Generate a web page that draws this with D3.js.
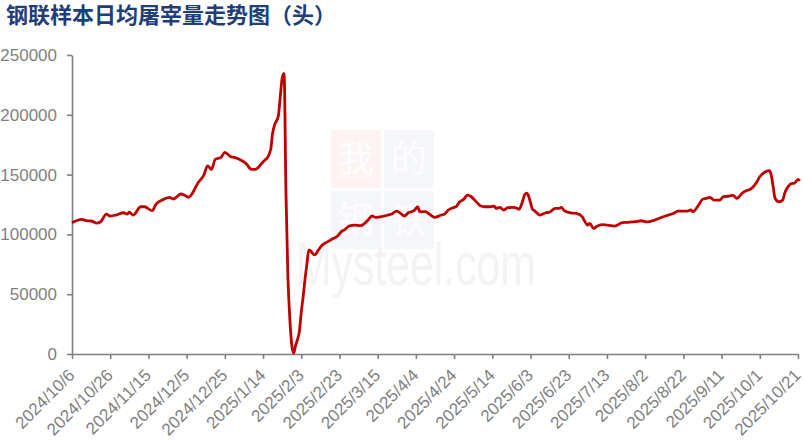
<!DOCTYPE html>
<html>
<head>
<meta charset="utf-8">
<script src="https://cdn.jsdelivr.net/npm/d3@7"></script>
<style>
  body { margin: 0; background: #fff; }
  .axis text { font-family: "Liberation Sans", Arial, sans-serif; font-size: 17px; fill: #7f7f7f; }
  .axis path, .axis line { stroke: #808080; stroke-width: 1.6; }
</style>
</head>
<body>
<div id="chart"></div>
<script>

/* 钢联样本日均屠宰量 (头) */

var dates = [
  "2024/10/6", "2024/10/11", "2024/10/14", "2024/10/16", "2024/10/19", "2024/10/21", "2024/10/24",
  "2024/10/26", "2024/10/29", "2024/11/2", "2024/11/4", "2024/11/5", "2024/11/7", "2024/11/11",
  "2024/11/13", "2024/11/17", "2024/11/19", "2024/11/23", "2024/11/26", "2024/11/28", "2024/12/2",
  "2024/12/4", "2024/12/6", "2024/12/7", "2024/12/11", "2024/12/14", "2024/12/16", "2024/12/18",
  "2024/12/20", "2024/12/23", "2024/12/25", "2024/12/28", "2024/12/30", "2025/1/3", "2025/1/5",
  "2025/1/8", "2025/1/10", "2025/1/13", "2025/1/15", "2025/1/16", "2025/1/18", "2025/1/19",
  "2025/1/20", "2025/1/22", "2025/1/23", "2025/1/24", "2025/1/25", "2025/1/26", "2025/1/27",
  "2025/1/28", "2025/1/29", "2025/1/30", "2025/1/31", "2025/2/1", "2025/2/2", "2025/2/3",
  "2025/2/4", "2025/2/5", "2025/2/6", "2025/2/7", "2025/2/8", "2025/2/9", "2025/2/10",
  "2025/2/12", "2025/2/14", "2025/2/16", "2025/2/19", "2025/2/22", "2025/2/24", "2025/2/26",
  "2025/2/28", "2025/3/3", "2025/3/6", "2025/3/7", "2025/3/10", "2025/3/12", "2025/3/14",
  "2025/3/17", "2025/3/20", "2025/3/22", "2025/3/25", "2025/3/27", "2025/3/29", "2025/3/31",
  "2025/4/3", "2025/4/5", "2025/4/6", "2025/4/9", "2025/4/11", "2025/4/14", "2025/4/17",
  "2025/4/19", "2025/4/21", "2025/4/24", "2025/4/25", "2025/4/27", "2025/4/29", "2025/5/1",
  "2025/5/3", "2025/5/6", "2025/5/8", "2025/5/10", "2025/5/13", "2025/5/15", "2025/5/16",
  "2025/5/18", "2025/5/20", "2025/5/22", "2025/5/25", "2025/5/27", "2025/5/28", "2025/5/30",
  "2025/5/31", "2025/6/1", "2025/6/2", "2025/6/3", "2025/6/4", "2025/6/5", "2025/6/8", "2025/6/11",
  "2025/6/13", "2025/6/15", "2025/6/16", "2025/6/18", "2025/6/19", "2025/6/21", "2025/6/24",
  "2025/6/27", "2025/6/30", "2025/7/1", "2025/7/3", "2025/7/4", "2025/7/6", "2025/7/8",
  "2025/7/11", "2025/7/14", "2025/7/17", "2025/7/21", "2025/7/24", "2025/7/28", "2025/7/31",
  "2025/8/3", "2025/8/7", "2025/8/10", "2025/8/13", "2025/8/17", "2025/8/19", "2025/8/24",
  "2025/8/26", "2025/8/27", "2025/8/30", "2025/9/1", "2025/9/3", "2025/9/5", "2025/9/7",
  "2025/9/10", "2025/9/12", "2025/9/15", "2025/9/17", "2025/9/19", "2025/9/22", "2025/9/24",
  "2025/9/26", "2025/9/29", "2025/10/1", "2025/10/4", "2025/10/6", "2025/10/7", "2025/10/8",
  "2025/10/9", "2025/10/11", "2025/10/13", "2025/10/14", "2025/10/16", "2025/10/18", "2025/10/19",
  "2025/10/21", "2025/10/22"
];

var slaughter = [
  109800, 112600, 111400, 111200, 109500, 110600, 117000,
  115400, 116200, 118100, 117000, 118500, 116200, 123100,
  123100, 119800, 125400, 129300, 131000, 129600, 133800,
  132700, 131000, 132100, 143200, 149600, 157200, 154400,
  162800, 164400, 168600, 165000, 164400, 161600, 159400,
  154400, 154400, 158800, 162200, 163600, 171000, 184500,
  191400, 199000, 215100, 230500, 234700, 134300, 65000,
  30000, 8000, 500, 7000, 12000, 18600, 35000,
  48000, 63000, 76000, 87000, 86000, 84000, 82800,
  87000, 91100, 93100, 95900, 98600, 102300, 104200,
  107000, 107800, 107300, 107800, 112000, 115400, 114300,
  114800, 116000, 116800, 119500, 117600, 115400, 118100,
  119800, 123100, 119000, 119000, 117000, 114300, 116000,
  117000, 120400, 122600, 123100, 127300, 129300, 132900,
  131500, 126500, 123700, 123100, 123100, 123700, 121800,
  122600, 120400, 122300, 122600, 121800, 121000, 128500,
  133500, 134500, 132000, 126500, 121000, 119800, 116200, 118100,
  118600, 121000, 121800, 121800, 122600, 119500, 118100,
  117600, 114800, 112000, 107800, 109300, 105100, 107000,
  108100, 107600, 107000, 109800, 110100, 110600, 111400,
  110400, 112000, 113900, 115600, 117600, 119500, 119500,
  120400, 119000, 124600, 129300, 130200, 131000, 128700,
  128700, 131500, 132100, 132700, 130200, 134800, 136500,
  137700, 142700, 148200, 152400, 153300, 149600, 139900,
  130200, 127300, 128700, 134300, 140400, 142700, 142700,
  146000, 144900
];

var xTickLabels = [
  "2024/10/6", "2024/10/26", "2024/11/15", "2024/12/5", "2024/12/25", "2025/1/14", "2025/2/3",
  "2025/2/23", "2025/3/15", "2025/4/4", "2025/4/24", "2025/5/14", "2025/6/3", "2025/6/23",
  "2025/7/13", "2025/8/2", "2025/8/22", "2025/9/11", "2025/10/1", "2025/10/21"
];

var yTickValues = [0, 50000, 100000, 150000, 200000, 250000];

var chartTitle = "钢联样本日均屠宰量走势图（头）";

function drawChart(){

  var w = 804;
  var h = 445;
  var left = 72, right = 798, top = 55, bottom = 354;

  var parse = d3.timeParse("%Y/%m/%d");

  var data = dates.map(function(d, i){
    return {date: parse(d), value: slaughter[i]};
  });

  var x = d3.scaleTime()
            .domain([parse(xTickLabels[0]), parse(xTickLabels[xTickLabels.length - 1])])
            .range([left, right]);

  var y = d3.scaleLinear()
            .domain([0, d3.max(yTickValues)])
            .range([bottom, top]);

  var svg = d3.select("#chart").append("svg")
              .attr("width", w)
              .attr("height", h);

  svg.append("rect")
     .attr("width", w)
     .attr("height", h)
     .attr("fill", "#fff");

  // faint watermark
  var wm = svg.append("g");
  var cells = [
    {t: "我", x: 331, y: 130, bg: "#fdf3f3"},
    {t: "的", x: 384, y: 130, bg: "#f5f6fa"},
    {t: "钢", x: 331, y: 191, bg: "#f5f6fa"},
    {t: "铁", x: 384, y: 191, bg: "#f5f6fa"}
  ];
  wm.selectAll("rect.cell")
    .data(cells)
    .enter().append("rect")
    .attr("class", "cell")
    .attr("x", function(d){ return d.x; })
    .attr("y", function(d){ return d.y; })
    .attr("width", 50)
    .attr("height", 58)
    .attr("fill", function(d){ return d.bg; });
  wm.selectAll("text.cell")
    .data(cells)
    .enter().append("text")
    .attr("class", "cell")
    .attr("x", function(d){ return d.x + 25; })
    .attr("y", function(d){ return d.y + 42; })
    .attr("text-anchor", "middle")
    .style("font-family", "'Noto Sans CJK SC', sans-serif")
    .style("font-size", "36px")
    .style("fill", "#fdfdfe")
    .text(function(d){ return d.t; });
  wm.append("text")
    .attr("x", 296)
    .attr("y", 285)
    .attr("textLength", 240)
    .attr("lengthAdjust", "spacingAndGlyphs")
    .style("font-family", "'Liberation Sans', Arial, sans-serif")
    .style("font-size", "62px")
    .style("fill", "#f3f3f3")
    .text("Mysteel.com");

  // title
  svg.append("text")
     .attr("x", 6)
     .attr("y", 23)
     .style("font-family", "'Noto Sans CJK SC', sans-serif")
     .style("font-weight", "bold")
     .style("font-size", "22px")
     .style("fill", "#1f3d7a")
     .text(chartTitle);

  // axes
  var yAxis = d3.axisLeft(y)
                .tickValues(yTickValues)
                .tickSize(5)
                .tickSizeOuter(0)
                .tickPadding(10)
                .tickFormat(d3.format("d"));

  svg.append("g")
     .attr("class", "axis")
     .attr("transform", "translate(" + left + ",0)")
     .call(yAxis);

  var xAxis = d3.axisBottom(x)
                .tickValues(xTickLabels.map(parse))
                .tickSize(5)
                .tickSizeOuter(0)
                .tickFormat(function(d, i){ return xTickLabels[i]; });

  var gx = svg.append("g")
              .attr("class", "axis")
              .attr("transform", "translate(0," + bottom + ")")
              .call(xAxis);

  gx.selectAll("text")
    .attr("x", 0)
    .attr("y", 0)
    .attr("dy", "0.35em")
    .attr("text-anchor", "end")
    .attr("transform", "translate(-1,18) rotate(-45)");

  // line
  var line = d3.line()
               .x(function(d){ return x(d.date); })
               .y(function(d){ return y(d.value); })
               .curve(d3.curveMonotoneX);

  svg.append("path")
     .datum(data)
     .attr("fill", "none")
     .attr("stroke", "#c00000")
     .attr("stroke-width", 2.8)
     .attr("stroke-linejoin", "round")
     .attr("d", line);

};

drawChart();

</script>
</body>
</html>
